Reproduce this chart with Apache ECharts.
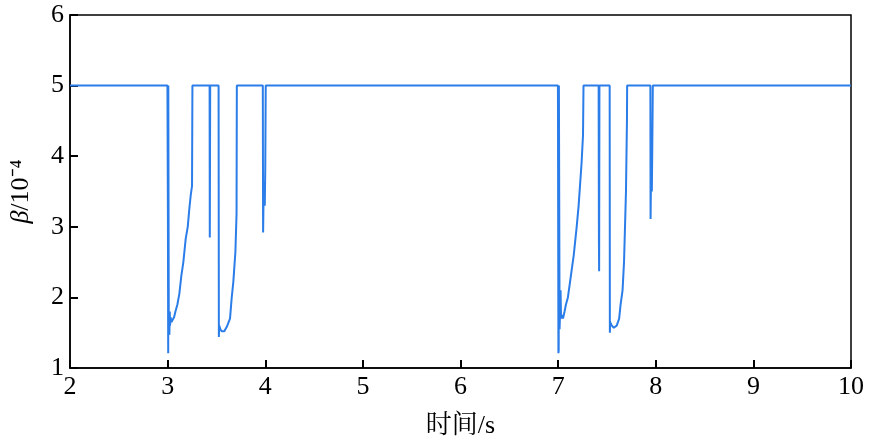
<!DOCTYPE html><html><head><meta charset="utf-8"><script src="https://cdn.jsdelivr.net/npm/echarts@6/dist/echarts.min.js"></script></head><body style="margin:0"><div id="c" style="width:870px;height:444px"></div><script>
const times=[2,2.998,3.003,3.006,3.007,3.01,3.012,3.018,3.022,3.025,3.03,3.04,3.05,3.066,3.08,3.1,3.12,3.14,3.161,3.185,3.206,3.222,3.236,3.25,3.254,3.258,3.43,3.432,3.434,3.436,3.522,3.525,3.528,3.54,3.554,3.58,3.605,3.625,3.639,3.656,3.673,3.694,3.706,3.709,3.712,3.975,3.978,3.981,3.985,3.99,3.995,4.0,4.005,4.03,4.033,
6.998,7.0,7.003,7.006,7.008,7.012,7.015,7.02,7.025,7.03,7.04,7.05,7.066,7.08,7.1,7.12,7.14,7.16,7.19,7.21,7.225,7.24,7.255,7.26,7.415,7.418,7.42,7.423,7.425,7.528,7.53,7.533,7.55,7.57,7.6,7.625,7.64,7.66,7.675,7.695,7.705,7.707,7.71,7.945,7.947,7.95,7.955,7.96,7.965,7.97,7.975,7.978,10];
const beta=[5,5,3.11,1.21,5,5,1.5,1.47,1.8,1.6,1.72,1.65,1.68,1.72,1.8,1.9,2.05,2.3,2.5,2.83,3.0,3.25,3.44,3.58,5,5,5,2.85,2.85,5,5,1.44,1.6,1.55,1.52,1.52,1.58,1.65,1.70,1.99,2.22,2.64,3.18,5,5,5,2.92,2.92,3.63,3.5,3.3,3.8,5,5,5,
5,5,1.21,1.25,5,5,1.55,1.8,2.1,1.7,1.75,1.7,1.8,1.9,2.0,2.2,2.4,2.6,3.0,3.3,3.6,3.9,4.3,5,5,2.8,2.37,5,5,5,1.5,1.65,1.6,1.57,1.6,1.7,1.9,2.1,2.5,3.5,4.5,5,5,5,3.11,3.5,3.6,3.5,4.2,5,5,5,5];
const xTicks=[2,3,4,5,6,7,8,9,10], yTicks=[1,2,3,4,5,6];
const data=times.map((t,i)=>[t,beta[i]]);
const font='Times New Roman, Liberation Serif, Noto Serif CJK SC, Noto Sans CJK SC, serif';
const ax={axisLine:{show:true,lineStyle:{color:'#000',width:1.5}},axisTick:{show:true,inside:true,length:8,lineStyle:{color:'#000',width:2}},splitLine:{show:false},axisLabel:{color:'#000',fontSize:26,fontFamily:font,margin:6}};
echarts.init(document.getElementById('c')).setOption({animation:false,
grid:{left:70,right:19,top:15,bottom:74,show:true,borderColor:'#000',borderWidth:1.5},
xAxis:Object.assign({type:'value',min:2,max:10,interval:1,name:'时间/s',nameLocation:'middle',nameGap:45,nameTextStyle:{color:'#000',fontSize:26,fontFamily:font}},ax),
yAxis:Object.assign({type:'value',min:1,max:6,interval:1,name:'{i|β}/10⁻⁴',nameLocation:'middle',nameGap:36,nameTextStyle:{color:'#000',fontSize:26,fontFamily:font,rich:{i:{fontStyle:'italic',fontSize:26,fontFamily:font}}}},ax),
series:[{type:'line',data:data,symbol:'none',lineStyle:{color:'#2b7de9',width:2}}]});
</script></body></html>
